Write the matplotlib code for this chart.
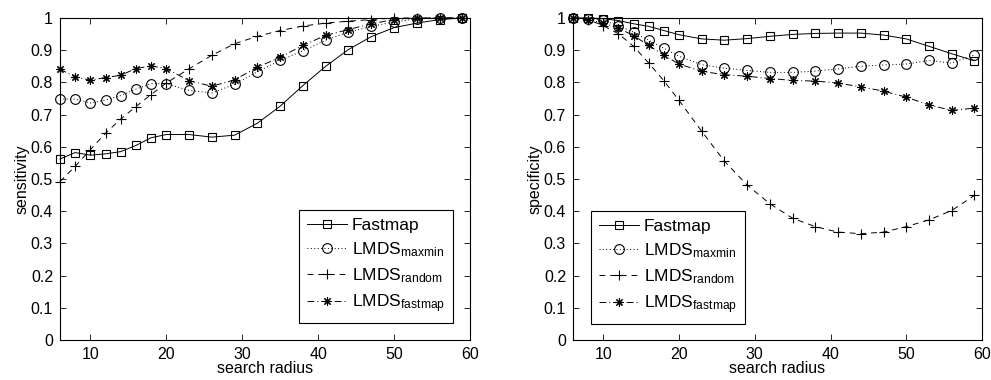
import matplotlib
matplotlib.use("Agg")
import matplotlib.pyplot as plt

plt.rcParams['font.family'] = ['Liberation Sans', 'DejaVu Sans']
plt.rcParams['mathtext.default'] = 'regular'
plt.rcParams['font.size'] = 11.5

# rayon de recherche
radius = [6, 8, 10, 12, 14, 16, 18, 20, 23, 26, 29, 32, 35, 38, 41, 44, 47, 50, 53, 56, 59]

# sensibilité (graphe de gauche)
sens_fastmap = [0.562, 0.582, 0.574, 0.578, 0.585, 0.604, 0.628, 0.638, 0.638, 0.630, 0.636,
                0.673, 0.726, 0.790, 0.850, 0.902, 0.942, 0.970, 0.984, 0.995, 1.0]
sens_maxmin = [0.748, 0.748, 0.736, 0.745, 0.759, 0.779, 0.796, 0.796, 0.775, 0.767, 0.794,
               0.833, 0.868, 0.898, 0.931, 0.956, 0.974, 0.988, 0.997, 1.0, 1.0]
sens_random = [0.492, 0.539, 0.591, 0.642, 0.686, 0.725, 0.762, 0.798, 0.842, 0.884, 0.920,
               0.943, 0.961, 0.975, 0.984, 0.990, 0.995, 1.0, 1.0, 1.0, 1.0]
sens_lfast = [0.841, 0.817, 0.807, 0.815, 0.822, 0.843, 0.851, 0.843, 0.805, 0.788, 0.808,
              0.847, 0.878, 0.915, 0.946, 0.964, 0.982, 0.995, 1.0, 1.0, 1.0]

# spécificité (graphe de droite)
spec_fastmap = [1.0, 1.0, 0.998, 0.992, 0.982, 0.974, 0.961, 0.948, 0.935, 0.931, 0.936,
                0.943, 0.949, 0.952, 0.953, 0.953, 0.947, 0.935, 0.912, 0.889, 0.867]
spec_maxmin = [1.0, 0.998, 0.993, 0.976, 0.956, 0.931, 0.906, 0.881, 0.855, 0.844, 0.837,
               0.831, 0.831, 0.835, 0.842, 0.850, 0.854, 0.857, 0.868, 0.860, 0.885]
spec_random = [1.0, 0.995, 0.976, 0.951, 0.912, 0.860, 0.805, 0.744, 0.648, 0.555, 0.481,
               0.423, 0.378, 0.352, 0.335, 0.330, 0.335, 0.352, 0.373, 0.402, 0.449]
spec_lfast = [1.0, 0.995, 0.984, 0.969, 0.945, 0.915, 0.884, 0.857, 0.834, 0.824, 0.819,
              0.812, 0.806, 0.804, 0.798, 0.786, 0.773, 0.754, 0.730, 0.713, 0.720]

labels = ["Fastmap", "LMDS$_{maxmin}$", "LMDS$_{random}$", "LMDS$_{fastmap}$"]
# style de trait, marqueur, taille
styles = [("-", "s", 5.5), ((0, (1, 2.5)), "o", 7), ((0, (6, 5)), "+", 7),
          ((0, (7, 3, 1, 3)), (8, 2, 0), 6)]

fig = plt.figure(figsize=(9.91, 3.80), dpi=100)
ax1 = fig.add_axes([0.0605, 0.1053, 0.4137, 0.8474])
ax2 = fig.add_axes([0.5782, 0.1053, 0.4127, 0.8474])

def trace(ax, series, ylabel, loc, anchor):
    for y, lab, (ls, mk, ms) in zip(series, labels, styles):
        ax.plot(radius, y, color="k", linestyle=ls, marker=mk, markersize=ms,
                markerfacecolor="none", markeredgewidth=0.8, linewidth=0.7,
                label=lab, clip_on=False)
    ax.set_xlim(6, 60)
    ax.set_ylim(0, 1)
    ax.set_xticks([10, 20, 30, 40, 50, 60])
    ax.set_yticks([0, 0.1, 0.2, 0.3, 0.4, 0.5, 0.6, 0.7, 0.8, 0.9, 1])
    ax.set_yticklabels(["0", "0.1", "0.2", "0.3", "0.4", "0.5", "0.6", "0.7", "0.8", "0.9", "1"])
    ax.tick_params(direction="in", top=True, right=True, length=4, width=0.6, pad=5)
    for s in ax.spines.values():
        s.set_linewidth(0.8)
    ax.set_xlabel("search radius", labelpad=-1)
    ax.set_ylabel(ylabel, labelpad=1)
    leg = ax.legend(loc=loc, bbox_to_anchor=anchor, fancybox=False, framealpha=1,
                    edgecolor="k", handlelength=2.3, labelspacing=0.42,
                    borderpad=0.45, handletextpad=0.3, borderaxespad=0,
                    fontsize=12.5)
    leg.get_frame().set_linewidth(0.8)

trace(ax1, [sens_fastmap, sens_maxmin, sens_random, sens_lfast], "sensitivity",
      "lower right", (0.958, 0.053))
trace(ax2, [spec_fastmap, spec_maxmin, spec_random, spec_lfast], "specificity",
      "lower left", (0.044, 0.05))

plt.savefig("out.png", dpi=100)
